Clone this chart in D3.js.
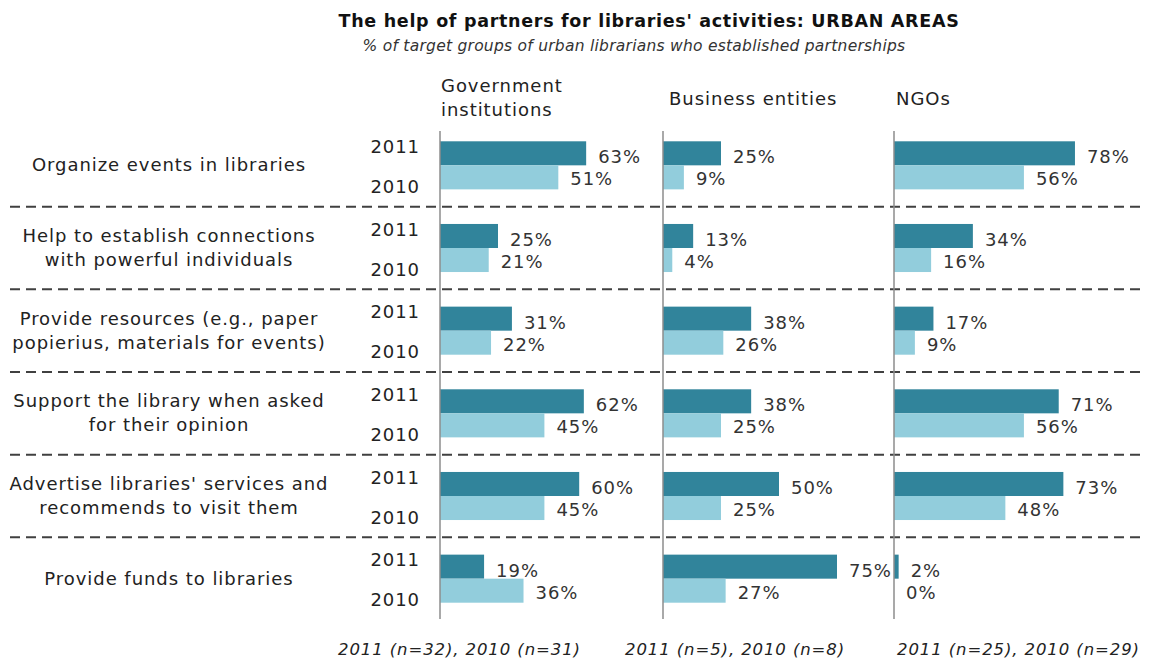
<!DOCTYPE html>
<html><head><meta charset="utf-8">
<script src="https://cdn.jsdelivr.net/npm/d3@7"></script>
<style>
body{margin:0;background:#fff;}
svg{display:block;font-family:"DejaVu Sans",Verdana,sans-serif;}
</style></head>
<body><svg id="chart" width="1149" height="660"></svg>
<script>
const title = "The help of partners for libraries' activities: URBAN AREAS";
const subtitle = "% of target groups of urban librarians who established partnerships";
const categories = [
  ["Organize events in libraries"],
  ["Help to establish connections", "with powerful individuals"],
  ["Provide resources (e.g., paper", "popierius, materials for events)"],
  ["Support the library when asked", "for their opinion"],
  ["Advertise libraries' services and", "recommends to visit them"],
  ["Provide funds to libraries"]
];
const years = ["2011", "2010"];
const panels = [["Government", "institutions"], ["Business entities"], ["NGOs"]];
const footers = ["2011 (n=32), 2010 (n=31)", "2011 (n=5), 2010 (n=8)", "2011 (n=25), 2010 (n=29)"];
// values[panel][category] = [2011, 2010]
const gov2011 = [63, 25, 31, 62, 60, 19];
const gov2010 = [51, 21, 22, 45, 45, 36];
const bus2011 = [25, 13, 38, 38, 50, 75];
const bus2010 = [9, 4, 26, 25, 25, 27];
const ngo2011 = [78, 34, 17, 71, 73, 2];
const ngo2010 = [56, 16, 9, 56, 48, 0];

const series = [[gov2011, gov2010], [bus2011, bus2010], [ngo2011, ngo2010]];
const colors = {"2011": "#31849b", "2010": "#92cddc"};

const svg = d3.select("#chart");
const panelX = [440, 663, 894];
const x = d3.scaleLinear().domain([0, 100]).range([0, 232]);
const catIdx = d3.range(categories.length);
const y = d3.scaleBand().domain(catIdx).range([124, 620]);
const yy = d3.scaleBand().domain(years).range([0, y.bandwidth()]).paddingOuter(0.72);

const FS = 18, LS = 0.95;

// title
svg.append("text").attr("x", 649).attr("y", 27).attr("text-anchor", "middle")
  .attr("font-weight", "bold").attr("font-size", 17.5).attr("letter-spacing", 0.7)
  .attr("fill", "#111").text(title);
svg.append("text").attr("x", 634).attr("y", 51).attr("text-anchor", "middle")
  .attr("font-style", "italic").attr("font-size", 15.5).attr("letter-spacing", 0.25)
  .attr("fill", "#333").text(subtitle);

// separators
svg.selectAll("line.sep").data(catIdx.slice(1)).join("line")
  .attr("x1", 10).attr("x2", 1140)
  .attr("y1", d => y(d)).attr("y2", d => y(d))
  .attr("stroke", "#404040").attr("stroke-width", 2).attr("stroke-dasharray", "10,6");

// category labels
const cl = svg.selectAll("text.cat").data(catIdx).join("text")
  .attr("text-anchor", "middle").attr("font-size", FS).attr("letter-spacing", LS).attr("fill", "#222");
cl.each(function(d) {
  const lines = categories[d];
  const cy = y(d) + y.bandwidth() / 2;
  const lh = 24;
  lines.forEach((l, i) => {
    d3.select(this).append("tspan").attr("x", 169)
      .attr("y", cy + (i - (lines.length - 1) / 2) * lh + 6).text(l);
  });
});

// year labels
const yearOff = {"2011": 23, "2010": 63};
catIdx.forEach(c => {
  years.forEach(yr => {
    svg.append("text").attr("x", 420).attr("y", y(c) + yearOff[yr] + 6)
      .attr("text-anchor", "end").attr("font-size", FS).attr("letter-spacing", LS)
      .attr("fill", "#222").text(yr);
  });
});

// panels
panels.forEach((p, pi) => {
  const g = svg.append("g").attr("transform", `translate(${panelX[pi]},0)`);
  // header
  const ht = g.append("text").attr("font-size", FS).attr("letter-spacing", LS).attr("fill", "#222");
  p.forEach((l, i) => {
    ht.append("tspan").attr("x", [1, 6, 2][pi]).attr("y", p.length === 2 ? 92 + i * 24 : 105).text(l);
  });
  // bars
  catIdx.forEach(c => {
    years.forEach((yr, yi) => {
      const v = series[pi][yi][c];
      g.append("rect").attr("x", 0).attr("y", y(c) + yy(yr))
        .attr("width", x(v)).attr("height", yy.bandwidth())
        .attr("fill", colors[yr]);
      g.append("text").attr("x", x(v) + 12)
        .attr("y", y(c) + yy(yr) + yy.bandwidth() / 2 + (yi === 0 ? 10 : 8))
        .attr("font-size", FS).attr("letter-spacing", LS).attr("fill", "#333").text(v + "%");
    });
  });
  // axis
  g.append("line").attr("x1", 0).attr("x2", 0).attr("y1", 131).attr("y2", 619)
    .attr("stroke", "#8c8c8c").attr("stroke-width", 1.5);
  // footer
  g.append("text").attr("x", [-102, -38, 3][pi]).attr("y", 655)
    .attr("font-style", "italic").attr("font-size", 16.5).attr("letter-spacing", 0.9)
    .attr("fill", "#222").text(footers[pi]);
});
</script></body></html>
